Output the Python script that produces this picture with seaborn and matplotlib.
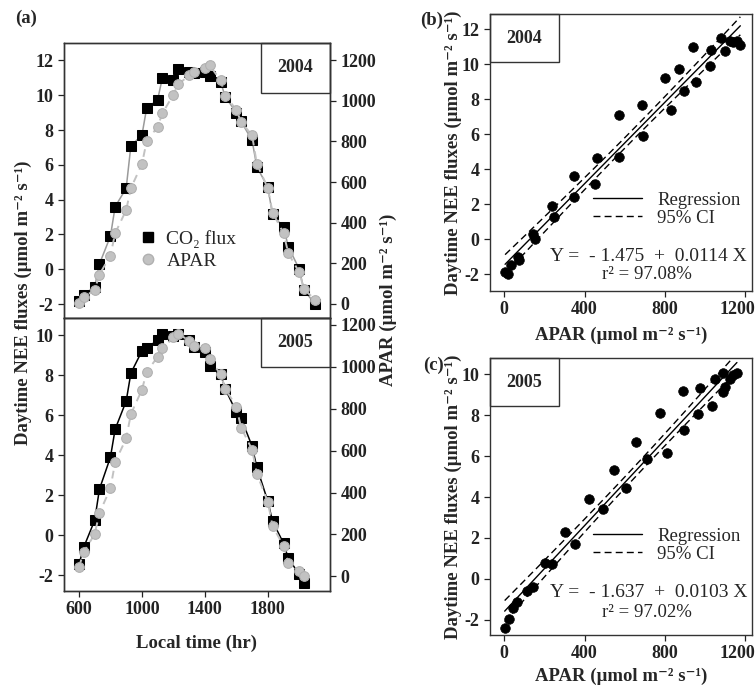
import numpy as np
import pandas as pd
import matplotlib
matplotlib.use("Agg")
import matplotlib.pyplot as plt
import matplotlib.transforms as mtransforms
import seaborn as sns
from matplotlib.patches import Rectangle
from matplotlib.lines import Line2D

sns.set_style("ticks")
FONT = ['Liberation Serif', 'DejaVu Serif']
plt.rcParams['font.family'] = FONT
plt.rcParams['font.weight'] = 'bold'
plt.rcParams['axes.labelweight'] = 'bold'
plt.rcParams['axes.edgecolor'] = '#333333'
plt.rcParams['axes.linewidth'] = 1.0

# ---- data ----
times_2004 = [600, 630, 700, 730, 800, 830, 900, 930, 1000, 1030, 1100, 1130, 1200, 1230,
              1300, 1330, 1400, 1430, 1500, 1530, 1600, 1630, 1700, 1730, 1800, 1830,
              1900, 1930, 2000, 2030, 2100]
co2_2004 = [-1.85, -1.45, -1.0, 0.3, 1.9, 3.6, 4.65, 7.1, 7.7, 9.25, 9.75, 11.0, 10.85, 11.5,
            11.35, 11.3, 11.35, 11.1, 10.75, 9.9, 9.0, 8.5, 7.4, 5.9, 4.7, 3.15,
            2.4, 1.3, 0.0, -1.2, -2.0]
apar_2004 = [5, 32, 70, 145, 238, 348, 462, 570, 688, 800, 872, 938, 1030, 1080,
             1125, 1140, 1160, 1175, 1100, 1025, 955, 895, 830, 690, 570, 450,
             348, 250, 155, 72, 22]

times_2005 = [600, 630, 700, 730, 800, 830, 900, 930, 1000, 1030, 1100, 1130, 1200, 1230,
              1300, 1330, 1400, 1430, 1500, 1530, 1600, 1630, 1700, 1730, 1800, 1830,
              1900, 1930, 2000, 2030]
co2_2005 = [-1.45, -0.6, 0.75, 2.3, 3.9, 5.3, 6.7, 8.1, 9.2, 9.35, 9.75, 10.05, 9.95, 10.05,
            9.75, 9.4, 9.15, 8.45, 8.05, 7.3, 6.15, 5.85, 4.45, 3.4, 1.7, 0.7,
            -0.4, -1.15, -1.95, -2.4]
apar_2005 = [45, 115, 202, 302, 420, 545, 658, 775, 890, 975, 1048, 1088, 1140, 1158,
             1125, 1098, 1090, 1035, 965, 895, 810, 710, 605, 490, 355, 240,
             145, 65, 25, 3]

equations = {'2004': ('Y =  - 1.475  +  0.0114 X', 'r\u00b2 = 97.08%'),
             '2005': ('Y =  - 1.637  +  0.0103 X', 'r\u00b2 = 97.02%')}

W, H = 756, 689
fig = plt.figure(figsize=(W / 100, H / 100), dpi=100)


def rect(x0, y0, x1, y1):
    return [x0 / W, 1 - y1 / H, (x1 - x0) / W, (y1 - y0) / H]


UNIT = '(\u00b5mol m\u207b\u00b2 s\u207b\u00b9)'
GRAY = '#c2c2c2'


def year_box(ax, label, side, w, h):
    x0 = 1 - w if side == 'right' else 0
    ax.add_patch(Rectangle((x0, 1 - h), w, h, transform=ax.transAxes, fill=False, lw=1.0,
                           ec='#333333', clip_on=False, zorder=5))
    ax.text(x0 + w / 2, 1 - h / 2, label, transform=ax.transAxes, ha='center',
            va='center', fontsize=13, fontweight='bold')


# ---- panel (a): time series ----
ax_top = fig.add_axes(rect(64, 43, 330, 318))
ax_bot = fig.add_axes(rect(64, 318, 330, 591))
limits = [(ax_top, times_2004, co2_2004, apar_2004, (-2.8, 13.0), (-69, 1284), '2004', '#9a9a9a', 12),
          (ax_bot, times_2005, co2_2005, apar_2005, (-2.78, 10.85), (-70, 1233), '2005', 'black', 10)]
for ax, t, co2, apar, yl, yr, lab, lc, ytop in limits:
    sns.lineplot(x=t, y=co2, ax=ax, color=lc, linewidth=1.1, marker='s', markersize=6.5,
                 markerfacecolor='black', markeredgecolor='black', zorder=2)
    ax2 = ax.twinx()
    sns.lineplot(x=t, y=apar, ax=ax2, color=GRAY, linewidth=1.4, linestyle=(0, (4, 3)),
                 marker='o', markersize=7, markerfacecolor=GRAY, markeredgecolor='#b0b0b0', zorder=3)
    ax.set_xlim(505, 2195)
    ax.set_ylim(*yl)
    ax2.set_ylim(*yr)
    ax.set_xticks([600, 1000, 1400, 1800])
    ax.set_yticks(np.arange(-2, ytop + 0.1, 2))
    ax2.set_yticks(np.arange(0, 1201, 200))
    for a in (ax, ax2):
        a.tick_params(direction='out', length=4, width=0.9, labelsize=13, colors='#222222')
        a.set_xlabel('')
        a.set_ylabel('')
        for s in a.spines.values():
            s.set_visible(True)
    ax.set_yticklabels([f'{v:g}' for v in ax.get_yticks()], fontweight='bold')
    ax2.set_yticklabels([f'{v:g}' for v in ax2.get_yticks()], fontweight='bold')
    year_box(ax2, lab, 'right', 0.259, 0.18)

ax_top.tick_params(axis='x', bottom=False, labelbottom=False)
ax_bot.set_xticklabels(['600', '1000', '1400', '1800'], fontweight='bold')
ax_bot.set_xlabel('Local time (hr)', fontsize=13.5, fontweight='bold', labelpad=12)

handles = [Line2D([], [], ls='none', marker='s', ms=7, mfc='black', mec='black'),
           Line2D([], [], ls='none', marker='o', ms=7.5, mfc=GRAY, mec='#b0b0b0')]
ax_top.legend(handles, ['CO\u2082 flux', 'APAR'], loc='center left',
              bbox_to_anchor=(0.279, 0.247), frameon=False, handlelength=1.0,
              handletextpad=0.45, labelspacing=0.25, borderpad=0, borderaxespad=0,
              prop={'family': FONT, 'size': 14, 'weight': 'normal'})

fig.text(23 / W, 1 - 303 / H, 'Daytime NEE fluxes ' + UNIT, rotation=90, ha='center',
         va='center', fontsize=13.5, fontweight='bold')
fig.text(388 / W, 1 - 300 / H, 'APAR ' + UNIT, rotation=90, ha='center', va='center',
         fontsize=13.5, fontweight='bold')
fig.text(26 / W, 1 - 18 / H, '(a)', ha='center', va='center', fontsize=13.5, fontweight='bold')


# ---- panels (b), (c): regression ----
def fit_ci(x, y, tcrit):
    x = np.asarray(x, float)
    y = np.asarray(y, float)
    n = len(x)
    b, a = np.polyfit(x, y, 1)
    xs = np.linspace(x.min(), x.max(), 100)
    s = np.sqrt(np.sum((y - (a + b * x)) ** 2) / (n - 2))
    se = s * np.sqrt(1 / n + (xs - x.mean()) ** 2 / np.sum((x - x.mean()) ** 2))
    yh = a + b * xs
    return xs, yh, yh - tcrit * se, yh + tcrit * se


panels = [(rect(490, 14, 752, 291), apar_2004, co2_2004, '2004', (-2.95, 12.88),
           np.arange(-2, 12.1, 2), 2.045, 0.296, 0.124, 0.058, '(b)', (432, 20), 6),
          (rect(490, 358, 752, 635), apar_2005, co2_2005, '2005', (-2.75, 10.8),
           np.arange(-2, 10.1, 2), 2.048, 0.325, 0.152, 0.080, '(c)', (434, 365), 4)]
shift = mtransforms.ScaledTranslation(-8 / 100, 0, fig.dpi_scale_trans)
for pos, xv, yv, yr, yl, yt, tc, leg_y, eq_y, r_y, plab, ppos, lpad in panels:
    ax = fig.add_axes(pos)
    df = pd.DataFrame({'APAR': xv, 'NEE': yv})
    sns.scatterplot(data=df, x='APAR', y='NEE', ax=ax, color='black', s=48,
                    edgecolor='black', linewidth=0.5, zorder=3)
    xs, yh, lo, hi = fit_ci(xv, yv, tc)
    ax.plot(xs, yh, color='black', lw=1.0, zorder=2)
    ax.plot(xs, lo, color='black', lw=1.0, ls=(0, (5, 3)), zorder=2)
    ax.plot(xs, hi, color='black', lw=1.0, ls=(0, (5, 3)), zorder=2)
    ax.set_xlim(-70, 1233)
    ax.set_ylim(*yl)
    ax.set_xticks([0, 400, 800, 1200])
    ax.set_yticks(yt)
    ax.set_xticklabels(['0', '400', '800', '1200'], fontweight='bold')
    ax.set_yticklabels([f'{v:g}' for v in yt], fontweight='bold')
    ax.tick_params(direction='out', length=4, width=0.9, labelsize=13, colors='#222222')
    last = ax.get_xticklabels()[-1]
    last.set_transform(last.get_transform() + shift)
    ax.set_xlabel('APAR ' + UNIT, fontsize=13.5, fontweight='bold', labelpad=lpad)
    ax.set_ylabel('Daytime NEE fluxes ' + UNIT, fontsize=13.5, fontweight='bold', labelpad=0)
    year_box(ax, yr, 'left', 0.264, 0.175)
    lh = [Line2D([], [], color='black', lw=1.0),
          Line2D([], [], color='black', lw=1.0, ls=(0, (5, 3)))]
    ax.legend(lh, ['Regression', '95% CI'], loc='center left', bbox_to_anchor=(0.394, leg_y),
              frameon=False, handlelength=2.6, handletextpad=0.8, labelspacing=0.05,
              borderpad=0, borderaxespad=0,
              prop={'family': FONT, 'size': 13.5, 'weight': 'normal'})
    eq, r2 = equations[yr]
    ax.text(0.605, eq_y, eq, transform=ax.transAxes, ha='center', va='center',
            fontsize=14, fontweight='normal')
    ax.text(0.598, r_y, r2, transform=ax.transAxes, ha='center', va='center',
            fontsize=13.5, fontweight='normal')
    fig.text(ppos[0] / W, 1 - ppos[1] / H, plab, ha='center', va='center',
             fontsize=13.5, fontweight='bold')

fig.savefig('out.png', dpi=100)
